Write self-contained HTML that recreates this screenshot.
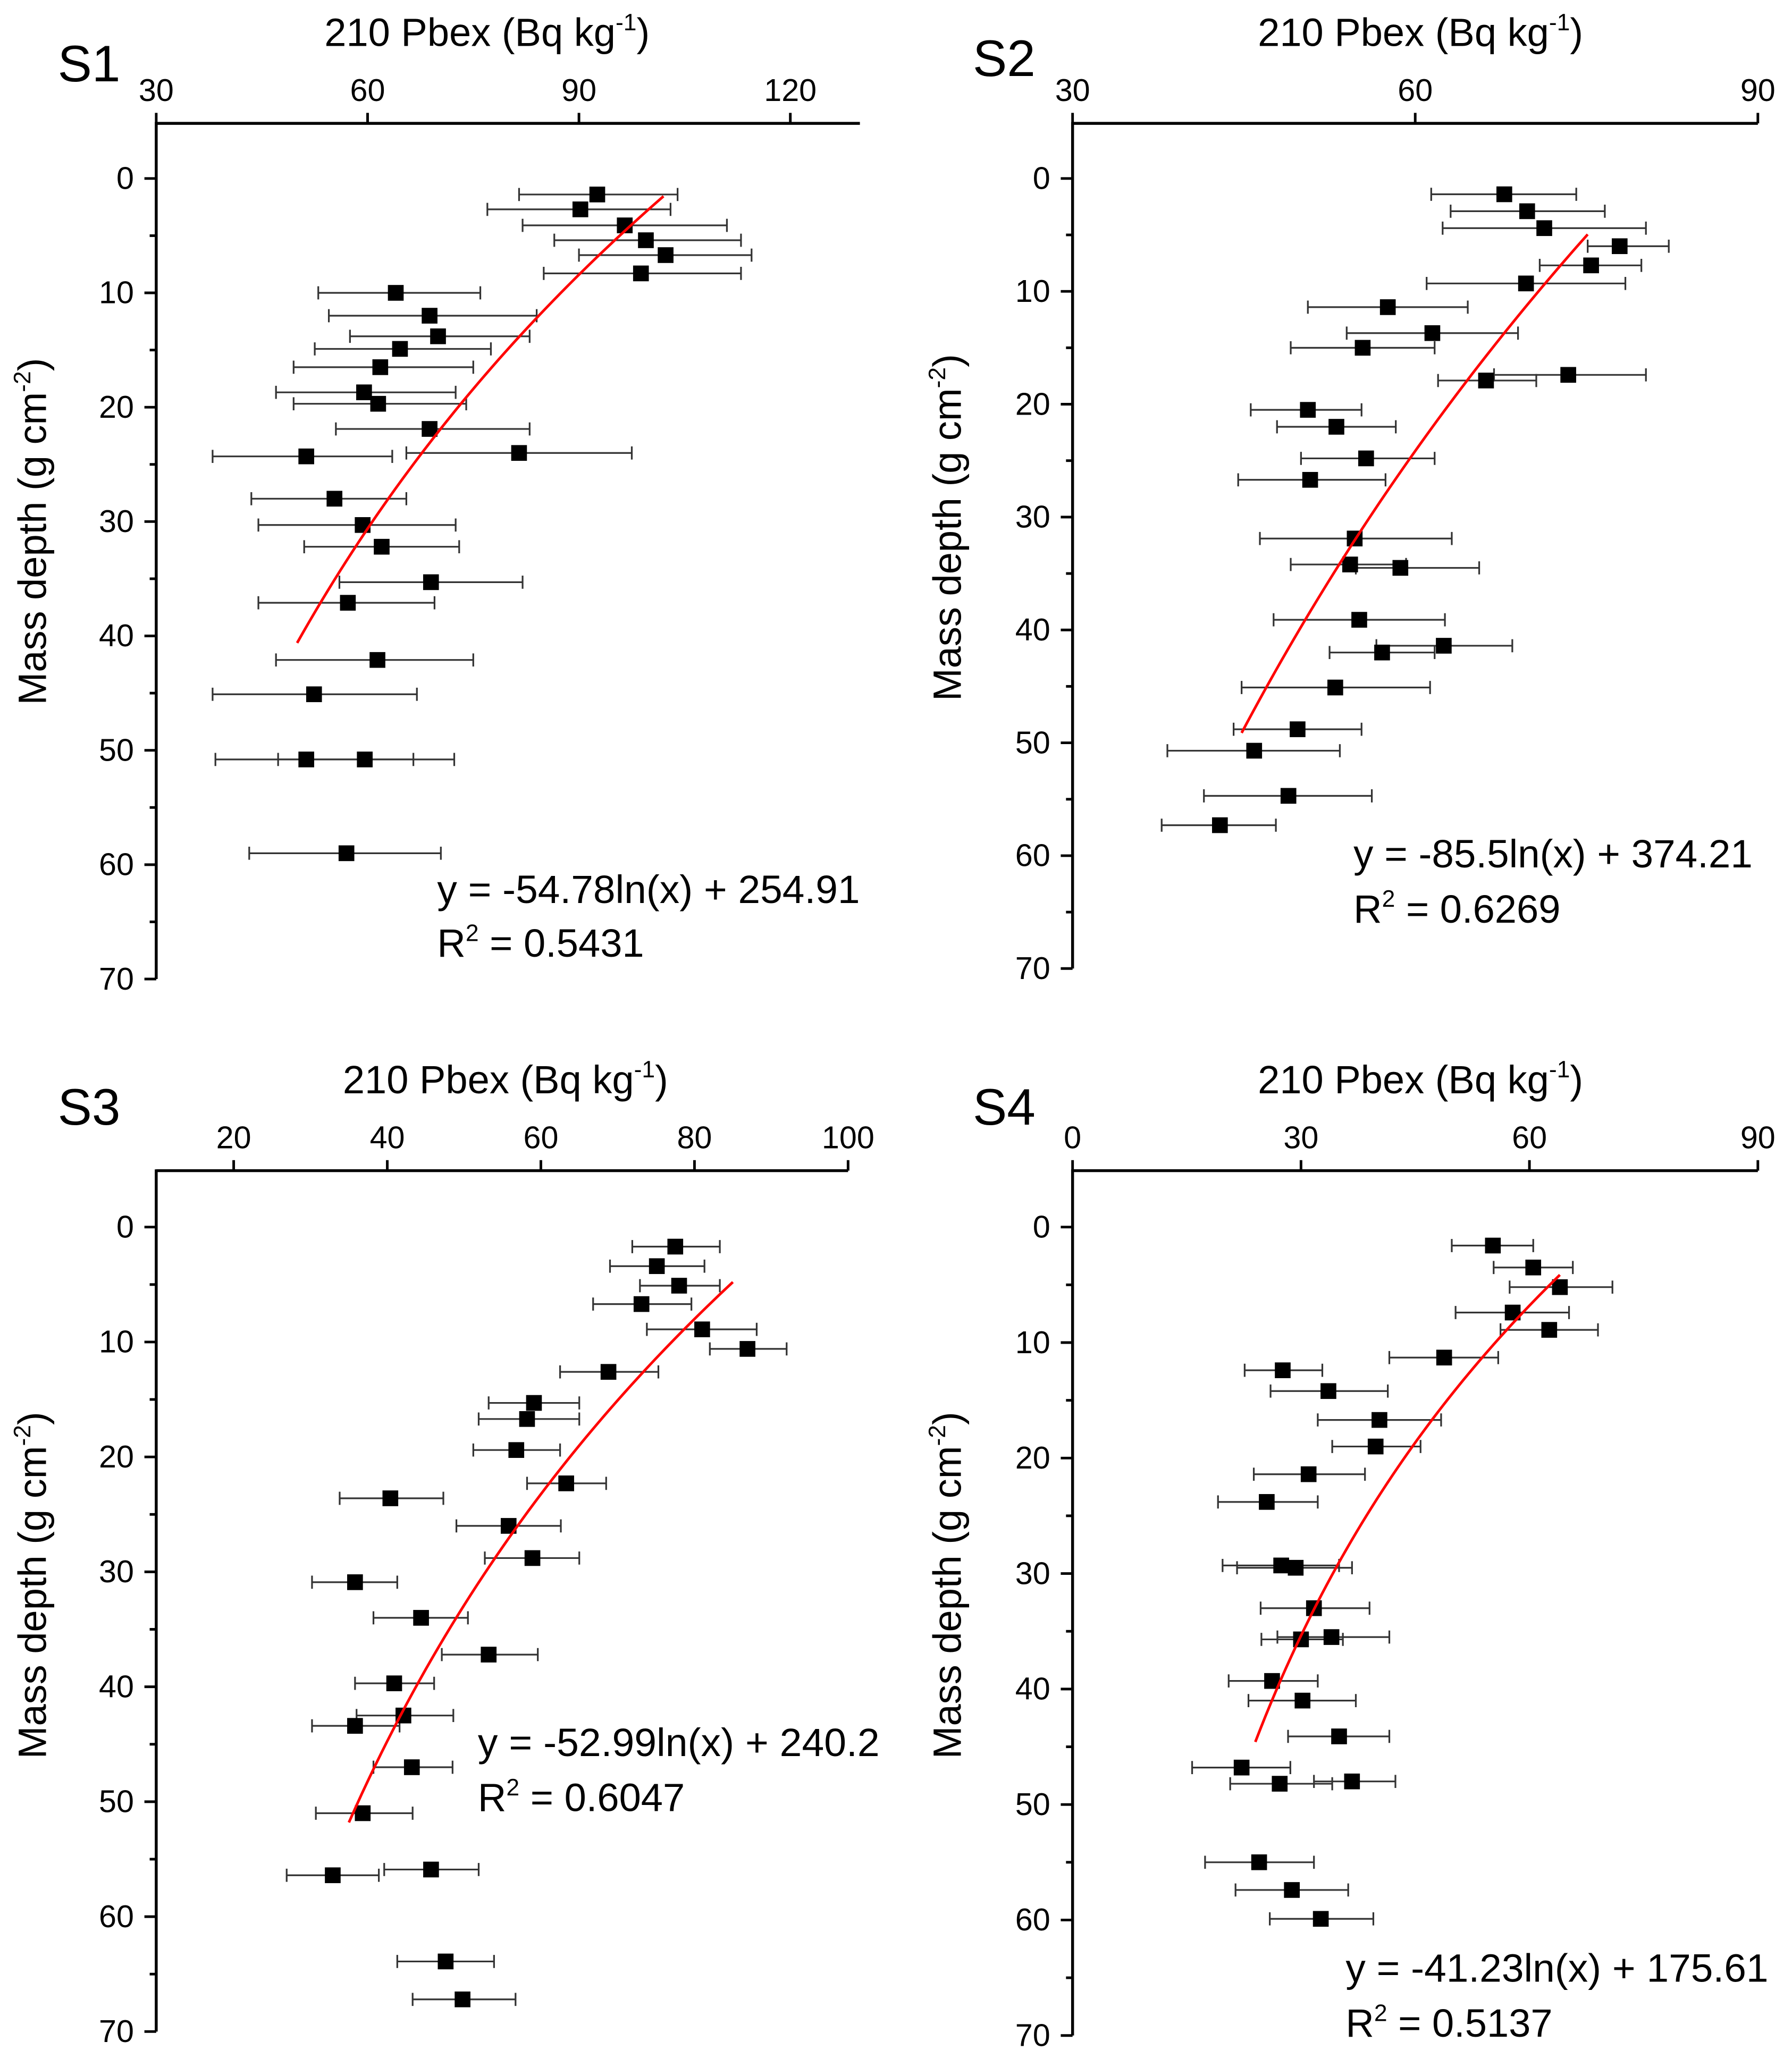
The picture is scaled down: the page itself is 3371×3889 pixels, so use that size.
<!DOCTYPE html>
<html><head><meta charset="utf-8"><style>
html,body{margin:0;padding:0;background:#fff}
svg{display:block}
text{font-family:"Liberation Sans",Arial,sans-serif;fill:#000}
</style></head><body>
<svg id="chart" width="3371" height="3889" viewBox="0 0 1365 1575" preserveAspectRatio="none" xmlns="http://www.w3.org/2000/svg"></svg>
<script>
// ---- Data (x value, depth, lower error, upper error) ----
const s1Pb = [92.6,90.2,96.5,99.5,102.3,98.8,64,68.8,70,64.6,61.8,59.5,61.5,68.8,51.3,81.5,55.3,59.3,62,69,57.2,61.4,52.4,51.3,59.6,57];
const s1Depth = [1.4,2.7,4.1,5.4,6.7,8.3,10,12,13.8,14.9,16.5,18.7,19.7,21.9,24.3,24,28,30.3,32.2,35.3,37.1,42.1,45.1,50.8,50.8,59];
const s1Lo = [81.5,77,82,86.5,90,85,53,54.5,57.5,52.5,49.5,47,49.5,55.5,38,65.5,43.5,44.5,51,56,44.5,47,38,38.4,47.3,43.2];
const s1Hi = [104,103,111,113,114.5,113,76,84,83,77.5,75,72.5,74,83,63.5,97.5,65.5,72.5,73,82,69.5,75,67,66.5,72.3,70.4];

const s2Pb = [67.8,69.8,71.3,77.9,75.4,69.7,57.6,61.5,55.4,73.4,66.2,50.6,53.1,55.7,50.8,54.7,54.3,58.7,55.1,62.5,57.1,53,49.7,45.9,48.9,42.9];
const s2Depth = [1.4,2.9,4.4,6.0,7.7,9.3,11.4,13.7,15.0,17.4,17.9,20.5,22.0,24.8,26.7,31.9,34.2,34.5,39.1,41.4,42.0,45.1,48.8,50.7,54.7,57.3];
const s2Lo = [61.4,63.1,62.4,75.1,70.9,61,50.6,54,49.1,66.9,62,45.6,47.9,50,44.5,46.4,49.1,54.8,47.6,56.6,52.5,44.8,44.1,38.3,41.5,37.8];
const s2Hi = [74.1,76.6,80.2,82.2,79.8,78.4,64.6,69,61.7,80.2,70.6,55.3,58.3,61.7,57.4,63.2,59.2,65.6,62.6,68.5,61.7,61.3,55.3,53.4,56.2,47.8];

const s3Pb = [77.5,75.1,78,73.1,81,86.9,68.8,59.1,58.2,56.8,63.3,40.4,55.8,58.9,35.8,44.4,53.2,40.9,42.1,35.8,43.2,36.8,45.7,32.9,47.6,49.8];
const s3Depth = [1.7,3.4,5.1,6.7,8.9,10.6,12.6,15.3,16.7,19.4,22.3,23.6,26,28.8,30.9,34,37.2,39.7,42.5,43.4,47,51,55.9,56.4,63.9,67.2];
const s3Lo = [71.9,69,72.9,66.8,73.8,82,62.5,53.2,51.9,51.2,58.2,33.8,49,52.7,30.2,38.2,47.1,35.8,36,30.2,38.2,30.7,39.6,26.9,41.3,43.3];
const s3Hi = [83.3,81.3,83.3,79.6,88.1,92,75.3,65,65,62.5,68.5,47.3,62.6,65,41.3,50.5,59.6,46.1,48.6,41.6,48.5,43.3,51.9,38.9,53.9,56.7];

const s4Pb = [55.2,60.5,64,57.8,62.6,48.8,27.6,33.6,40.3,39.8,31,25.5,27.4,29.3,31.7,34,30,26.2,30.2,35,22.2,27.2,36.7,24.5,28.8,32.6];
const s4Depth = [1.6,3.5,5.2,7.4,8.9,11.3,12.4,14.2,16.7,19,21.4,23.8,29.3,29.5,33,35.5,35.7,39.3,41,44.1,46.8,48.2,48,55,57.4,59.9];
const s4Lo = [49.8,55.3,57.4,50.3,56.2,41.6,22.6,26,32.2,34.1,23.8,19.1,19.7,21.6,24.7,26.9,24.8,20.5,23.1,28.3,15.7,20.7,31.7,17.4,21.4,25.9];
const s4Hi = [60.5,65.7,70.9,65.2,69,55.9,32.8,41.4,48.4,45.7,38.4,32.2,35,36.7,39,41.6,35.5,32.2,37.2,41.6,28.6,34.1,42.4,31.7,36.2,39.5];

const fitA = [-54.78,-85.5,-52.99,-41.23];
const fitB = [254.91,374.21,240.2,175.61];
const fitXmin = [50,44.8,35,24];
const fitXmax = [102,75.1,85,64];
const eqText = ["y = -54.78ln(x) + 254.91","y = -85.5ln(x) + 374.21","y = -52.99ln(x) + 240.2","y = -41.23ln(x) + 175.61"];
const r2Text = ["0.5431","0.6269","0.6047","0.5137"];
const panelNames = ["S1","S2","S3","S4"];
const xTicks1 = [30,60,90,120];
const xTicks2 = [30,60,90];
const xTicks3 = [20,40,60,80,100];
const xTicks4 = [0,30,60,90];
const yTicks = [0,10,20,30,40,50,60,70];

const NS="http://www.w3.org/2000/svg";
const svg=document.getElementById('chart');
function mk(tag,attrs,parent){const e=document.createElementNS(NS,tag);for(const k in attrs)e.setAttribute(k,attrs[k]);(parent||svg).appendChild(e);return e;}

const panels=[
 {pb:s1Pb,d:s1Depth,lo:s1Lo,hi:s1Hi,xt:xTicks1,L:119,R:655,x0px:119,x1px:602,x0v:30,x1v:120,T:94,y0:136,y70:746,B:746,lab:[44,62],title:[371,35],yt:[35,405],eq:[333,688,322],r2:[333,729]},
 {pb:s2Pb,d:s2Depth,lo:s2Lo,hi:s2Hi,xt:xTicks2,L:817,R:1339,x0px:817,x1px:1339,x0v:30,x1v:90,T:94,y0:136,y70:738,B:738,lab:[741,58],title:[1082,35],yt:[732,402],eq:[1031,661,304],r2:[1031,703]},
 {pb:s3Pb,d:s3Depth,lo:s3Lo,hi:s3Hi,xt:xTicks3,L:119,R:646,x0px:178,x1px:646,x0v:20,x1v:100,T:892,y0:935,y70:1548,B:1548,lab:[44,857],title:[385,833],yt:[35,1208],eq:[364,1338,306],r2:[364,1380]},
 {pb:s4Pb,d:s4Depth,lo:s4Lo,hi:s4Hi,xt:xTicks4,L:817,R:1339,x0px:817,x1px:1339,x0v:0,x1v:90,T:892,y0:935,y70:1551,B:1551,lab:[741,857],title:[1082,833],yt:[732,1208],eq:[1025,1510,322],r2:[1025,1552]}
];

panels.forEach((p,i)=>{
  const g=mk('g',{});
  
  
  const X=v=>p.x0px+(v-p.x0v)*(p.x1px-p.x0px)/(p.x1v-p.x0v);
  const Y=v=>p.y0+v*(p.y70-p.y0)/70;
  const lb=mk('text',{x:p.lab[0],y:p.lab[1],'font-size':39},g);lb.textContent=panelNames[i];
  
  
  const xt=mk('text',{x:p.title[0],y:p.title[1],'font-size':30,'text-anchor':'middle'},g);
  
  
  xt.innerHTML='210 Pbex (Bq kg<tspan dy="-12" font-size="18">-1</tspan><tspan dy="12">)</tspan>';
  const yt=mk('text',{x:0,y:0,'font-size':30,'text-anchor':'middle',transform:`translate(${p.yt[0]},${p.yt[1]}) rotate(-90)`},g);
  
  
  yt.innerHTML='Mass depth (g cm<tspan dy="-12" font-size="18">-2</tspan><tspan dy="12">)</tspan>';
  const ax=mk('line',{x1:p.L,y1:p.T,x2:p.R,y2:p.T,stroke:'#000','stroke-width':2.2},g);
  
  
  const ay=mk('line',{x1:p.L,y1:p.T-1,x2:p.L,y2:p.B,stroke:'#000','stroke-width':2.2},g);
  
  
  p.xt.forEach(v=>{
    mk('line',{x1:X(v),y1:p.T,x2:X(v),y2:p.T-8,stroke:'#000','stroke-width':2},g);
    const t=mk('text',{x:X(v),y:p.T-17,'font-size':24,'text-anchor':'middle'},g);t.textContent=v;
    
    
  });
  for(let v=0;v<=70;v+=5){
    const major=v%10===0;
    mk('line',{x1:p.L,y1:Y(v),x2:p.L-(major?9:5),y2:Y(v),stroke:'#000','stroke-width':2},g);
  }
  yTicks.forEach(v=>{
    const t=mk('text',{x:p.L-17,y:Y(v)+8,'font-size':24,'text-anchor':'end'},g);t.textContent=v;
    
    
  });
  p.pb.forEach((v,k)=>{
    const y=Y(p.d[k]);
    const e=mk('path',{d:`M${X(p.lo[k])},${y}H${X(p.hi[k])}M${X(p.lo[k])},${y-5}V${y+5}M${X(p.hi[k])},${y-5}V${y+5}`,stroke:'#333','stroke-width':1.3,fill:'none'},g);
    
    
  });
  p.pb.forEach((v,k)=>{
    const r=mk('rect',{x:X(v)-6,y:Y(p.d[k])-6,width:12,height:12,fill:'#000'},g);
    
    
  });
  let dstr='';
  for(let s=0;s<=60;s++){
    const xv=fitXmin[i]+(fitXmax[i]-fitXmin[i])*s/60;
    const yv=fitA[i]*Math.log(xv)+fitB[i];
    dstr+=(s?'L':'M')+X(xv).toFixed(2)+','+Y(yv).toFixed(2);
  }
  const fc=mk('path',{d:dstr,stroke:'#f00','stroke-width':2,fill:'none'},g);
  
  
  const eq=mk('text',{x:p.eq[0],y:p.eq[1],'font-size':30,textLength:p.eq[2],lengthAdjust:'spacingAndGlyphs'},g);
  eq.textContent=eqText[i];
  
  
  const r2=mk('text',{x:p.r2[0],y:p.r2[1],'font-size':30},g);
  r2.innerHTML='R<tspan dy="-12" font-size="18">2</tspan><tspan dy="12"> = '+r2Text[i]+'</tspan>';
  
  
});
</script>
</body></html>
